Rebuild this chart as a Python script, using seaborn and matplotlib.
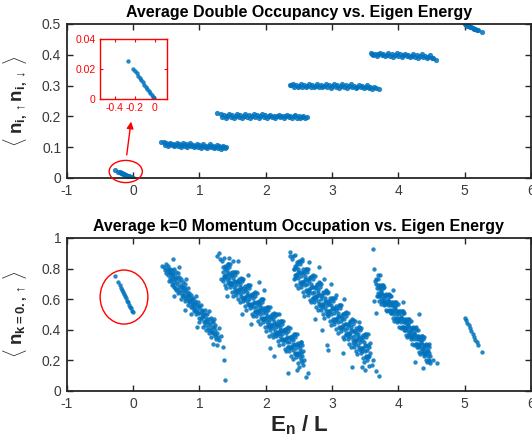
import matplotlib
matplotlib.use("Agg")
import matplotlib.pyplot as plt
from matplotlib.patches import Ellipse
import pandas as pd
import seaborn as sns

# ---------------- axis ticks ----------------
energy_ticks = [-1, 0, 1, 2, 3, 4, 5, 6]
dbl_ticks = [0, 0.1, 0.2, 0.3, 0.4, 0.5]
occ_ticks = [0, 0.2, 0.4, 0.6, 0.8, 1]
inset_xticks = [-0.4, -0.2, 0]
inset_yticks = [0, 0.02, 0.04]

# ---------------- double occupancy (E_n/L, <n_up n_dn>) per sector ----------------
dbl_n0 = [(-0.27, 0.025), (-0.22, 0.020), (-0.20, 0.0185), (-0.18, 0.017), (-0.165, 0.0155),
          (-0.15, 0.014), (-0.135, 0.0125), (-0.12, 0.011), (-0.105, 0.0095), (-0.09, 0.008),
          (-0.075, 0.0068), (-0.06, 0.0055), (-0.045, 0.004), (-0.03, 0.0027), (-0.015, 0.0013),
          (-0.005, 0.0004)]
dbl_n1 = [(0.42, 0.117), (0.46, 0.116), (0.48, 0.107), (0.50, 0.112), (0.52, 0.104), (0.54, 0.110),
          (0.56, 0.115), (0.58, 0.106), (0.60, 0.111), (0.62, 0.103), (0.64, 0.108), (0.66, 0.114),
          (0.68, 0.105), (0.70, 0.110), (0.72, 0.102), (0.74, 0.107), (0.76, 0.113), (0.78, 0.104),
          (0.80, 0.109), (0.82, 0.100), (0.84, 0.106), (0.86, 0.112), (0.88, 0.103), (0.90, 0.108),
          (0.92, 0.099), (0.94, 0.105), (0.96, 0.111), (0.98, 0.102), (1.00, 0.106), (1.02, 0.098),
          (1.04, 0.104), (1.06, 0.110), (1.08, 0.101), (1.10, 0.105), (1.12, 0.097), (1.14, 0.103),
          (1.16, 0.109), (1.18, 0.099), (1.20, 0.104), (1.22, 0.096), (1.24, 0.102), (1.26, 0.107),
          (1.28, 0.098), (1.30, 0.103), (1.32, 0.095), (1.34, 0.101), (1.36, 0.104), (1.38, 0.097),
          (1.40, 0.099)]
dbl_n2 = [(1.27, 0.211), (1.320, 0.208), (1.345, 0.199), (1.370, 0.204), (1.395, 0.196), (1.420, 0.202),
          (1.445, 0.208), (1.470, 0.199), (1.495, 0.204), (1.520, 0.196), (1.545, 0.202), (1.570, 0.208),
          (1.595, 0.199), (1.620, 0.204), (1.645, 0.196), (1.670, 0.202), (1.695, 0.207), (1.720, 0.198),
          (1.745, 0.203), (1.770, 0.195), (1.795, 0.201), (1.820, 0.207), (1.845, 0.198), (1.870, 0.203),
          (1.895, 0.195), (1.920, 0.201), (1.945, 0.207), (1.970, 0.198), (1.995, 0.203), (2.020, 0.195),
          (2.045, 0.201), (2.070, 0.206), (2.095, 0.197), (2.120, 0.202), (2.145, 0.194), (2.170, 0.200),
          (2.195, 0.206), (2.220, 0.197), (2.245, 0.202), (2.270, 0.194), (2.295, 0.200), (2.320, 0.206),
          (2.345, 0.197), (2.370, 0.202), (2.395, 0.194), (2.420, 0.200), (2.445, 0.205), (2.470, 0.196),
          (2.495, 0.201), (2.520, 0.194), (2.545, 0.199), (2.570, 0.202), (2.595, 0.196), (2.625, 0.197)]
dbl_n3 = [(2.360, 0.303), (2.380, 0.302), (2.405, 0.306), (2.430, 0.297), (2.455, 0.302), (2.480, 0.294),
          (2.505, 0.300), (2.530, 0.306), (2.555, 0.297), (2.580, 0.302), (2.605, 0.294), (2.630, 0.300),
          (2.655, 0.306), (2.680, 0.297), (2.705, 0.302), (2.730, 0.294), (2.755, 0.300), (2.780, 0.306),
          (2.805, 0.297), (2.830, 0.302), (2.855, 0.294), (2.880, 0.300), (2.905, 0.306), (2.930, 0.297),
          (2.955, 0.302), (2.980, 0.293), (3.005, 0.299), (3.030, 0.305), (3.055, 0.296), (3.080, 0.301),
          (3.105, 0.293), (3.130, 0.299), (3.155, 0.305), (3.180, 0.296), (3.205, 0.301), (3.230, 0.293),
          (3.255, 0.298), (3.280, 0.304), (3.305, 0.295), (3.330, 0.300), (3.355, 0.292), (3.380, 0.297),
          (3.405, 0.303), (3.430, 0.294), (3.455, 0.299), (3.480, 0.291), (3.505, 0.296), (3.530, 0.301),
          (3.555, 0.293), (3.580, 0.297), (3.605, 0.290), (3.630, 0.294), (3.660, 0.291), (3.710, 0.288)]
dbl_n4 = [(3.590, 0.405), (3.600, 0.404), (3.625, 0.399), (3.650, 0.404), (3.675, 0.396), (3.700, 0.401),
          (3.725, 0.407), (3.750, 0.398), (3.775, 0.403), (3.800, 0.395), (3.825, 0.400), (3.850, 0.406),
          (3.875, 0.397), (3.900, 0.402), (3.925, 0.394), (3.950, 0.399), (3.975, 0.405), (4.000, 0.396),
          (4.025, 0.401), (4.050, 0.393), (4.075, 0.398), (4.100, 0.404), (4.125, 0.395), (4.150, 0.400),
          (4.175, 0.392), (4.200, 0.397), (4.225, 0.403), (4.250, 0.394), (4.275, 0.399), (4.300, 0.391),
          (4.325, 0.396), (4.350, 0.401), (4.375, 0.392), (4.400, 0.397), (4.425, 0.389), (4.450, 0.394),
          (4.475, 0.398), (4.500, 0.390), (4.530, 0.389), (4.570, 0.383)]
dbl_n5 = [(5.00, 0.499), (5.02, 0.497), (5.04, 0.495), (5.06, 0.493), (5.08, 0.491), (5.10, 0.489),
          (5.12, 0.487), (5.14, 0.485), (5.16, 0.483), (5.18, 0.481), (5.20, 0.479), (5.26, 0.475)]

# ---------------- k=0 momentum occupation (E_n/L, <n_k=0,up>) per sector ----------------
occ_n0 = [(-0.27, 0.75), (-0.22, 0.71), (-0.20, 0.69), (-0.18, 0.675), (-0.165, 0.66), (-0.15, 0.645),
          (-0.135, 0.635), (-0.12, 0.62), (-0.105, 0.605), (-0.09, 0.59), (-0.075, 0.58), (-0.06, 0.565),
          (-0.045, 0.55), (-0.03, 0.54), (-0.015, 0.525), (-0.005, 0.515)]
occ_n1 = [(0.43, 0.82), (0.46, 0.81), (0.48, 0.79), (0.49, 0.83), (0.50, 0.77),
          (0.51, 0.80), (0.52, 0.76), (0.53, 0.82), (0.54, 0.78), (0.55, 0.74), (0.55, 0.80),
          (0.56, 0.77), (0.57, 0.72), (0.58, 0.79), (0.59, 0.75), (0.60, 0.86), (0.60, 0.70), (0.60, 0.77),
          (0.61, 0.73), (0.62, 0.80), (0.62, 0.68), (0.63, 0.75), (0.64, 0.71), (0.65, 0.78), (0.65, 0.66),
          (0.66, 0.74), (0.67, 0.70), (0.68, 0.64), (0.68, 0.77), (0.69, 0.72), (0.70, 0.68), (0.70, 0.81),
          (0.71, 0.65), (0.72, 0.73), (0.72, 0.60), (0.73, 0.69), (0.74, 0.66), (0.75, 0.71), (0.75, 0.62),
          (0.76, 0.68), (0.77, 0.64), (0.78, 0.70), (0.78, 0.59), (0.79, 0.66), (0.80, 0.62), (0.80, 0.73),
          (0.81, 0.65), (0.82, 0.60), (0.83, 0.67), (0.83, 0.56), (0.84, 0.62), (0.85, 0.64), (0.85, 0.58),
          (0.86, 0.60), (0.87, 0.55), (0.88, 0.63), (0.88, 0.50), (0.89, 0.58), (0.90, 0.61), (0.90, 0.54),
          (0.91, 0.57), (0.92, 0.52), (0.93, 0.59), (0.94, 0.55), (0.95, 0.50), (0.95, 0.62),
          (0.96, 0.56), (0.97, 0.52), (0.98, 0.58), (0.99, 0.48), (1.00, 0.54), (1.00, 0.45),
          (1.01, 0.51), (1.02, 0.56), (1.03, 0.47), (1.04, 0.52), (1.05, 0.49), (1.05, 0.42),
          (1.06, 0.50), (1.07, 0.45), (1.08, 0.53), (1.09, 0.43), (1.10, 0.48), (1.10, 0.40),
          (1.11, 0.46), (1.12, 0.50), (1.13, 0.42), (1.14, 0.47), (1.15, 0.38), (1.15, 0.52),
          (1.16, 0.44), (1.17, 0.40), (1.18, 0.48), (1.18, 0.35), (1.19, 0.42), (1.20, 0.45),
          (1.21, 0.38), (1.21, 0.31), (1.22, 0.42), (1.23, 0.36), (1.24, 0.40), (1.25, 0.34), (1.22, 0.47),
          (1.26, 0.38), (1.27, 0.30), (1.28, 0.35), (1.29, 0.41), (1.30, 0.33),
          (1.35, 0.29), (1.33, 0.36), (1.37, 0.20), (1.38, 0.07), (0.97, 0.42), (0.62, 0.62), (0.78, 0.53),
          (0.535, 0.72), (0.538, 0.79), (0.585, 0.69), (0.588, 0.765), (0.635, 0.73), (0.638, 0.67),
          (0.685, 0.66), (0.688, 0.745), (0.735, 0.68), (0.738, 0.63), (0.785, 0.61), (0.788, 0.675),
          (0.835, 0.63), (0.838, 0.585), (0.885, 0.56), (0.888, 0.60), (0.935, 0.575), (0.938, 0.53),
          (0.985, 0.51), (0.988, 0.555), (1.035, 0.53), (1.038, 0.485), (1.085, 0.46), (1.088, 0.50),
          (1.135, 0.445), (1.138, 0.40), (1.185, 0.385), (1.188, 0.455), (1.235, 0.43), (1.238, 0.375)]
occ_n2 = [(1.342, 0.85), (1.353, 0.78), (1.359, 0.72), (1.381, 0.80), (1.371, 0.74), (1.365, 0.87),
          (1.398, 0.81), (1.408, 0.67), (1.394, 0.75), (1.435, 0.71), (1.418, 0.77), (1.427, 0.83),
          (1.442, 0.81), (1.453, 0.74), (1.459, 0.68), (1.481, 0.76), (1.471, 0.70), (1.465, 0.83),
          (1.498, 0.76), (1.508, 0.62), (1.494, 0.70), (1.535, 0.66), (1.518, 0.72), (1.527, 0.78),
          (1.542, 0.76), (1.553, 0.69), (1.559, 0.63), (1.581, 0.71), (1.571, 0.65), (1.565, 0.78),
          (1.598, 0.72), (1.608, 0.58), (1.594, 0.66), (1.635, 0.62), (1.618, 0.68), (1.627, 0.74),
          (1.642, 0.72), (1.653, 0.65), (1.659, 0.59), (1.681, 0.66), (1.671, 0.60), (1.665, 0.73),
          (1.698, 0.67), (1.708, 0.53), (1.694, 0.61), (1.735, 0.57), (1.718, 0.63), (1.727, 0.69),
          (1.742, 0.67), (1.753, 0.60), (1.759, 0.54), (1.781, 0.62), (1.771, 0.56), (1.765, 0.69),
          (1.798, 0.63), (1.808, 0.49), (1.794, 0.57), (1.835, 0.52), (1.818, 0.58), (1.827, 0.64),
          (1.842, 0.62), (1.853, 0.55), (1.859, 0.49), (1.881, 0.57), (1.871, 0.51), (1.865, 0.64),
          (1.898, 0.58), (1.908, 0.44), (1.894, 0.52), (1.935, 0.48), (1.918, 0.54), (1.927, 0.60),
          (1.942, 0.58), (1.953, 0.51), (1.959, 0.45), (1.981, 0.53), (1.971, 0.47), (1.965, 0.60),
          (1.998, 0.53), (2.008, 0.39), (1.994, 0.47), (2.035, 0.43), (2.018, 0.49), (2.027, 0.55),
          (2.042, 0.53), (2.053, 0.46), (2.059, 0.40), (2.081, 0.48), (2.071, 0.42), (2.065, 0.55),
          (2.098, 0.49), (2.108, 0.35), (2.094, 0.43), (2.135, 0.39), (2.118, 0.45), (2.127, 0.51),
          (2.142, 0.49), (2.153, 0.42), (2.159, 0.36), (2.181, 0.43), (2.171, 0.37), (2.165, 0.50),
          (2.198, 0.44), (2.208, 0.30), (2.194, 0.38), (2.235, 0.34), (2.218, 0.40), (2.227, 0.46),
          (2.242, 0.44), (2.253, 0.37), (2.259, 0.31), (2.281, 0.39), (2.271, 0.33), (2.265, 0.46),
          (2.298, 0.40), (2.308, 0.26), (2.294, 0.34), (2.335, 0.29), (2.318, 0.35), (2.327, 0.41),
          (2.342, 0.39), (2.353, 0.32), (2.359, 0.26), (2.381, 0.34), (2.371, 0.28), (2.365, 0.41),
          (2.398, 0.35), (2.408, 0.21), (2.394, 0.29), (2.435, 0.25), (2.418, 0.31), (2.427, 0.37),
          (2.442, 0.35), (2.453, 0.28), (2.459, 0.22), (2.481, 0.30), (2.471, 0.24), (2.465, 0.37),
          (2.498, 0.30), (2.508, 0.16), (2.494, 0.24), (2.535, 0.20), (2.518, 0.26), (2.527, 0.32),
          (2.542, 0.30), (2.553, 0.23), (2.559, 0.17),
          (1.362, 0.81), (1.366, 0.75), (1.412, 0.79), (1.416, 0.73), (1.462, 0.77), (1.466, 0.71),
          (1.512, 0.74), (1.516, 0.68), (1.562, 0.72), (1.566, 0.66), (1.612, 0.70), (1.616, 0.64),
          (1.662, 0.67), (1.666, 0.61), (1.712, 0.65), (1.716, 0.59), (1.762, 0.63), (1.766, 0.57),
          (1.812, 0.61), (1.816, 0.55), (1.862, 0.58), (1.866, 0.52), (1.912, 0.56), (1.916, 0.50),
          (1.962, 0.54), (1.966, 0.48), (2.012, 0.51), (2.016, 0.45), (2.062, 0.49), (2.066, 0.43),
          (2.112, 0.47), (2.116, 0.41), (2.162, 0.44), (2.166, 0.38), (2.212, 0.42), (2.216, 0.36),
          (2.262, 0.40), (2.266, 0.34), (2.312, 0.38), (2.316, 0.32), (2.362, 0.35), (2.366, 0.29),
          (2.412, 0.33), (2.416, 0.27), (2.462, 0.31), (2.466, 0.25), (2.512, 0.28), (2.516, 0.22),
          (1.388, 0.69), (1.392, 0.82), (1.384, 0.75), (1.438, 0.83), (1.442, 0.70), (1.434, 0.76),
          (1.488, 0.645), (1.492, 0.775), (1.484, 0.705), (1.538, 0.78), (1.542, 0.65), (1.534, 0.71),
          (1.588, 0.60), (1.592, 0.73), (1.584, 0.66), (1.638, 0.735), (1.642, 0.605), (1.634, 0.665),
          (1.688, 0.555), (1.692, 0.685), (1.684, 0.615), (1.738, 0.69), (1.742, 0.56), (1.734, 0.62),
          (1.788, 0.505), (1.792, 0.635), (1.784, 0.565), (1.838, 0.645), (1.842, 0.515), (1.834, 0.575),
          (1.888, 0.46), (1.892, 0.59), (1.884, 0.52), (1.938, 0.60), (1.942, 0.47), (1.934, 0.53),
          (1.988, 0.415), (1.992, 0.545), (1.984, 0.475), (2.038, 0.55), (2.042, 0.42), (2.034, 0.48),
          (2.088, 0.37), (2.092, 0.50), (2.084, 0.43), (2.138, 0.505), (2.142, 0.375), (2.134, 0.435),
          (2.188, 0.325), (2.192, 0.455), (2.184, 0.385), (2.238, 0.46), (2.242, 0.33), (2.234, 0.39),
          (2.288, 0.275), (2.292, 0.405), (2.284, 0.335), (2.338, 0.415), (2.342, 0.285), (2.334, 0.345),
          (2.388, 0.23), (2.392, 0.36), (2.384, 0.29), (2.438, 0.37), (2.442, 0.24), (2.434, 0.30),
          (2.488, 0.185), (2.492, 0.315), (2.484, 0.245), (2.538, 0.32), (2.542, 0.19), (2.534, 0.25),
          (1.27, 0.88), (1.29, 0.90), (1.31, 0.86), (1.44, 0.87), (1.50, 0.85), (1.33, 0.73),
          (1.58, 0.85), (1.42, 0.62), (1.73, 0.76), (1.90, 0.71), (1.97, 0.66), (2.07, 0.28),
          (2.12, 0.23), (2.34, 0.12), (2.47, 0.14), (2.58, 0.20), (2.61, 0.09), (2.57, 0.26),
          (2.20, 0.50), (2.05, 0.36), (1.78, 0.44), (1.64, 0.50)]
occ_n3 = [(2.417, 0.88), (2.428, 0.80), (2.434, 0.73), (2.456, 0.81), (2.446, 0.74), (2.440, 0.89),
          (2.473, 0.83), (2.483, 0.67), (2.469, 0.76), (2.510, 0.71), (2.493, 0.78), (2.502, 0.85),
          (2.517, 0.83), (2.528, 0.75), (2.534, 0.68), (2.556, 0.77), (2.546, 0.70), (2.540, 0.85),
          (2.573, 0.78), (2.583, 0.62), (2.569, 0.71), (2.610, 0.66), (2.593, 0.73), (2.602, 0.80),
          (2.617, 0.78), (2.628, 0.70), (2.634, 0.63), (2.656, 0.72), (2.646, 0.65), (2.640, 0.80),
          (2.673, 0.74), (2.683, 0.58), (2.669, 0.67), (2.710, 0.61), (2.693, 0.68), (2.702, 0.75),
          (2.717, 0.73), (2.728, 0.65), (2.734, 0.58), (2.756, 0.67), (2.746, 0.60), (2.740, 0.75),
          (2.773, 0.69), (2.783, 0.53), (2.769, 0.62), (2.810, 0.57), (2.793, 0.64), (2.802, 0.71),
          (2.817, 0.68), (2.828, 0.60), (2.834, 0.53), (2.856, 0.62), (2.846, 0.55), (2.840, 0.70),
          (2.873, 0.64), (2.883, 0.48), (2.869, 0.57), (2.910, 0.52), (2.893, 0.59), (2.902, 0.66),
          (2.917, 0.64), (2.928, 0.56), (2.934, 0.49), (2.956, 0.57), (2.946, 0.50), (2.940, 0.65),
          (2.973, 0.59), (2.983, 0.43), (2.969, 0.52), (3.010, 0.47), (2.993, 0.54), (3.002, 0.61),
          (3.017, 0.59), (3.028, 0.51), (3.034, 0.44), (3.056, 0.53), (3.046, 0.46), (3.040, 0.61),
          (3.073, 0.54), (3.083, 0.38), (3.069, 0.47), (3.110, 0.42), (3.093, 0.49), (3.102, 0.56),
          (3.117, 0.54), (3.128, 0.46), (3.134, 0.39), (3.156, 0.48), (3.146, 0.41), (3.140, 0.56),
          (3.173, 0.50), (3.183, 0.34), (3.169, 0.43), (3.210, 0.37), (3.193, 0.44), (3.202, 0.51),
          (3.217, 0.49), (3.228, 0.41), (3.234, 0.34), (3.256, 0.43), (3.246, 0.36), (3.240, 0.51),
          (3.273, 0.45), (3.283, 0.29), (3.269, 0.38), (3.310, 0.33), (3.293, 0.40), (3.302, 0.47),
          (3.317, 0.44), (3.328, 0.36), (3.334, 0.29), (3.356, 0.38), (3.346, 0.31), (3.340, 0.46),
          (3.373, 0.40), (3.383, 0.24), (3.369, 0.33), (3.410, 0.28), (3.393, 0.35), (3.402, 0.42),
          (3.417, 0.40), (3.428, 0.32), (3.434, 0.25), (3.456, 0.33), (3.446, 0.26), (3.440, 0.41),
          (3.473, 0.35), (3.483, 0.19), (3.469, 0.28), (3.510, 0.23), (3.493, 0.30), (3.502, 0.37),
          (3.517, 0.35), (3.528, 0.27), (3.534, 0.20), (3.556, 0.29), (3.546, 0.22), (3.540, 0.37),
          (2.437, 0.82), (2.441, 0.76), (2.487, 0.80), (2.491, 0.74), (2.537, 0.78), (2.541, 0.71),
          (2.587, 0.75), (2.591, 0.69), (2.637, 0.73), (2.641, 0.66), (2.687, 0.70), (2.691, 0.64),
          (2.737, 0.68), (2.741, 0.62), (2.787, 0.66), (2.791, 0.59), (2.837, 0.63), (2.841, 0.57),
          (2.887, 0.61), (2.891, 0.54), (2.937, 0.59), (2.941, 0.52), (2.987, 0.56), (2.991, 0.50),
          (3.037, 0.54), (3.041, 0.47), (3.087, 0.51), (3.091, 0.45), (3.137, 0.49), (3.141, 0.42),
          (3.187, 0.47), (3.191, 0.40), (3.237, 0.44), (3.241, 0.38), (3.287, 0.42), (3.291, 0.35),
          (3.337, 0.39), (3.341, 0.33), (3.387, 0.37), (3.391, 0.30), (3.437, 0.35), (3.441, 0.28),
          (3.487, 0.32), (3.491, 0.26), (3.537, 0.30), (3.541, 0.23),
          (2.463, 0.69), (2.467, 0.84), (2.459, 0.76), (2.513, 0.85), (2.517, 0.70), (2.509, 0.77),
          (2.563, 0.645), (2.567, 0.795), (2.559, 0.71), (2.613, 0.80), (2.617, 0.65), (2.609, 0.725),
          (2.663, 0.595), (2.667, 0.745), (2.659, 0.66), (2.713, 0.755), (2.717, 0.605), (2.709, 0.68),
          (2.763, 0.55), (2.767, 0.70), (2.759, 0.615), (2.813, 0.705), (2.817, 0.555), (2.809, 0.63),
          (2.863, 0.50), (2.867, 0.65), (2.859, 0.565), (2.913, 0.655), (2.917, 0.505), (2.909, 0.58),
          (2.963, 0.455), (2.967, 0.605), (2.959, 0.52), (3.013, 0.61), (3.017, 0.46), (3.009, 0.535),
          (3.063, 0.405), (3.067, 0.555), (3.059, 0.47), (3.113, 0.56), (3.117, 0.41), (3.109, 0.485),
          (3.163, 0.355), (3.167, 0.505), (3.159, 0.42), (3.213, 0.515), (3.217, 0.365), (3.209, 0.44),
          (3.263, 0.31), (3.267, 0.46), (3.259, 0.375), (3.313, 0.465), (3.317, 0.315), (3.309, 0.39),
          (3.363, 0.26), (3.367, 0.41), (3.359, 0.325), (3.413, 0.415), (3.417, 0.265), (3.409, 0.34),
          (3.463, 0.215), (3.467, 0.365), (3.459, 0.28), (3.513, 0.37), (3.517, 0.22), (3.509, 0.295),
          (3.563, 0.165), (3.567, 0.315), (3.559, 0.23),
          (2.37, 0.91), (2.36, 0.88), (2.39, 0.86), (2.42, 0.80), (2.55, 0.86), (2.65, 0.84),
          (2.80, 0.81), (2.88, 0.73), (2.98, 0.70), (3.06, 0.63), (3.18, 0.60), (2.75, 0.47),
          (2.85, 0.40), (2.93, 0.30), (2.94, 0.27), (3.17, 0.25), (3.30, 0.16), (3.50, 0.14),
          (3.45, 0.16), (3.60, 0.17), (3.62, 0.20), (3.66, 0.13), (3.71, 0.10), (3.58, 0.25),
          (3.40, 0.45), (2.64, 0.12)]
occ_n4 = [(3.667, 0.73), (3.678, 0.67), (3.684, 0.62), (3.706, 0.67), (3.696, 0.62), (3.690, 0.73),
          (3.723, 0.68), (3.733, 0.57), (3.719, 0.63), (3.760, 0.59), (3.743, 0.65), (3.752, 0.69),
          (3.767, 0.67), (3.778, 0.61), (3.784, 0.56), (3.806, 0.62), (3.796, 0.57), (3.790, 0.68),
          (3.823, 0.63), (3.833, 0.52), (3.819, 0.58), (3.860, 0.53), (3.843, 0.59), (3.852, 0.63),
          (3.867, 0.62), (3.878, 0.56), (3.884, 0.51), (3.906, 0.56), (3.896, 0.51), (3.890, 0.62),
          (3.923, 0.57), (3.933, 0.46), (3.919, 0.52), (3.960, 0.48), (3.943, 0.54), (3.952, 0.58),
          (3.967, 0.56), (3.978, 0.50), (3.984, 0.45), (4.006, 0.51), (3.996, 0.46), (3.990, 0.57),
          (4.023, 0.52), (4.033, 0.41), (4.019, 0.47), (4.060, 0.42), (4.043, 0.48), (4.052, 0.52),
          (4.067, 0.51), (4.078, 0.45), (4.084, 0.40), (4.106, 0.45), (4.096, 0.40), (4.090, 0.51),
          (4.123, 0.46), (4.133, 0.35), (4.119, 0.41), (4.160, 0.37), (4.143, 0.43), (4.152, 0.47),
          (4.167, 0.45), (4.178, 0.39), (4.184, 0.34), (4.206, 0.40), (4.196, 0.35), (4.190, 0.46),
          (4.223, 0.41), (4.233, 0.30), (4.219, 0.36), (4.260, 0.31), (4.243, 0.37), (4.252, 0.41),
          (4.267, 0.40), (4.278, 0.34), (4.284, 0.29), (4.306, 0.34), (4.296, 0.29), (4.290, 0.40),
          (4.323, 0.35), (4.333, 0.24), (4.319, 0.30), (4.360, 0.26), (4.343, 0.32), (4.352, 0.36),
          (4.367, 0.34), (4.378, 0.28), (4.384, 0.23), (4.406, 0.29), (4.396, 0.24), (4.390, 0.35),
          (4.423, 0.30), (4.433, 0.19), (4.419, 0.25), (4.460, 0.20), (4.443, 0.26), (4.452, 0.30),
          (4.467, 0.29), (4.478, 0.23), (4.484, 0.18),
          (3.687, 0.69), (3.691, 0.64), (3.737, 0.66), (3.741, 0.61), (3.787, 0.63), (3.791, 0.59),
          (3.837, 0.60), (3.841, 0.56), (3.887, 0.58), (3.891, 0.53), (3.937, 0.55), (3.941, 0.50),
          (3.987, 0.52), (3.991, 0.48), (4.037, 0.49), (4.041, 0.45), (4.087, 0.47), (4.091, 0.42),
          (4.137, 0.44), (4.141, 0.39), (4.187, 0.41), (4.191, 0.37), (4.237, 0.38), (4.241, 0.34),
          (4.287, 0.36), (4.291, 0.31), (4.337, 0.33), (4.341, 0.28), (4.387, 0.30), (4.391, 0.26),
          (4.437, 0.27), (4.441, 0.23),
          (3.713, 0.585), (3.717, 0.69), (3.709, 0.63), (3.763, 0.69), (3.767, 0.58), (3.759, 0.635),
          (3.813, 0.53), (3.817, 0.635), (3.809, 0.575), (3.863, 0.635), (3.867, 0.525), (3.859, 0.58),
          (3.913, 0.475), (3.917, 0.58), (3.909, 0.52), (3.963, 0.58), (3.967, 0.47), (3.959, 0.525),
          (4.013, 0.42), (4.017, 0.525), (4.009, 0.465), (4.063, 0.525), (4.067, 0.415), (4.059, 0.47),
          (4.113, 0.365), (4.117, 0.47), (4.109, 0.41), (4.163, 0.47), (4.167, 0.36), (4.159, 0.415),
          (4.213, 0.31), (4.217, 0.415), (4.209, 0.355), (4.263, 0.415), (4.267, 0.305), (4.259, 0.36),
          (4.313, 0.255), (4.317, 0.36), (4.309, 0.30), (4.363, 0.36), (4.367, 0.25), (4.359, 0.305),
          (4.413, 0.20), (4.417, 0.305), (4.409, 0.245), (4.463, 0.305), (4.467, 0.195), (4.459, 0.25),
          (3.62, 0.93), (3.63, 0.80), (3.65, 0.72), (3.66, 0.70), (3.69, 0.76), (3.72, 0.76),
          (3.64, 0.59), (3.92, 0.66), (4.07, 0.58), (4.31, 0.50), (4.25, 0.19), (4.37, 0.15),
          (4.58, 0.18), (4.53, 0.20), (3.67, 0.51)]
occ_n5 = [(5.00, 0.48), (5.02, 0.465), (5.04, 0.445), (5.06, 0.43), (5.08, 0.41), (5.10, 0.39),
          (5.12, 0.37), (5.14, 0.355), (5.16, 0.335), (5.18, 0.32), (5.20, 0.30), (5.26, 0.255)]

BLUE = "#0072BD"
AXIS = "#262626"
RED = "#FF0000"


def frame(*groups):
    rows = [p for g in groups for p in g]
    return pd.DataFrame(rows, columns=["energy", "value"])


dbl = frame(dbl_n0, dbl_n1, dbl_n2, dbl_n3, dbl_n4, dbl_n5)
occ = frame(occ_n0, occ_n1, occ_n2, occ_n3, occ_n4, occ_n5)
dbl_low = frame(dbl_n0)

sns.set_theme(style="ticks")
plt.rcParams["font.family"] = ["Liberation Sans", "DejaVu Sans"]
plt.rcParams.update({
    "axes.unicode_minus": False,
    "mathtext.fontset": "custom",
    "mathtext.rm": "Liberation Sans",
    "mathtext.bf": "Liberation Sans:bold",
    "mathtext.it": "Liberation Sans:italic",
    "mathtext.sf": "Liberation Sans",
})

fig = plt.figure(figsize=(5.32, 4.40), dpi=100)
ax_top = fig.add_axes([0.1254, 0.5955, 0.8727, 0.35])
ax_bot = fig.add_axes([0.1254, 0.1114, 0.8727, 0.3477])

scatter_kw = dict(color=BLUE, linewidth=0, alpha=0.85, legend=False)
sns.scatterplot(data=dbl, x="energy", y="value", ax=ax_top, s=14, **scatter_kw)
sns.scatterplot(data=occ, x="energy", y="value", ax=ax_bot, s=10, **scatter_kw)


def style_axes(ax, yticks, ylim, ylabels):
    ax.set_xlim(-1, 6)
    ax.set_ylim(*ylim)
    ax.set_xticks(energy_ticks)
    ax.set_xticklabels([str(t) for t in energy_ticks])
    ax.set_yticks(yticks)
    ax.set_yticklabels(ylabels)
    ax.tick_params(direction="in", top=True, right=True, length=4, width=1.0,
                   color=AXIS, labelcolor="#3a3a3a", labelsize=10, pad=4)
    for sp in ax.spines.values():
        sp.set_visible(True)
        sp.set_color(AXIS)
        sp.set_linewidth(1.3)
    ax.set_xlabel("")
    ax.set_ylabel("")


style_axes(ax_top, dbl_ticks, (0, 0.5), ["0", "0.1", "0.2", "0.3", "0.4", "0.5"])
style_axes(ax_bot, occ_ticks, (0, 1), ["0", "0.2", "0.4", "0.6", "0.8", "1"])

ax_top.set_title("Average Double Occupancy vs. Eigen Energy", fontsize=11.5,
                 fontweight="bold", color="black", pad=5)
ax_bot.set_title("Average k=0 Momentum Occupation vs. Eigen Energy", fontsize=11.5,
                 fontweight="bold", color="black", pad=5)

ax_top.set_ylabel(r"$\langle\;\mathbf{n}_{\mathbf{i,}\uparrow}\mathbf{n}_{\mathbf{i,}\downarrow}\;\rangle$",
                  fontsize=13.5, color=AXIS)
ax_bot.set_ylabel(r"$\langle\;\mathbf{n}_{\mathbf{k=0.,}\uparrow}\;\rangle$",
                  fontsize=13.5, color=AXIS)
ax_top.yaxis.set_label_coords(-0.078, 0.5)
ax_bot.yaxis.set_label_coords(-0.078, 0.5)

ax_bot.set_xlabel(r"$\mathbf{E}_{\mathbf{n}}$ / L", fontsize=16, fontweight="bold", color=AXIS)
ax_bot.xaxis.set_label_coords(0.5, -0.145)

# highlight of the lowest sector in both panels
ax_top.add_patch(Ellipse((-0.11, 0.021), 0.5, 0.072, fill=False, edgecolor=RED,
                         linewidth=1.0, clip_on=False, zorder=5))
ax_bot.add_patch(Ellipse((-0.136, 0.614), 0.72, 0.353, fill=False, edgecolor=RED,
                         linewidth=1.0, clip_on=False, zorder=5))
ax_top.annotate("", xy=(-0.03, 0.183), xytext=(-0.095, 0.075),
                arrowprops=dict(arrowstyle="-|>", color=RED, lw=1.0, mutation_scale=10,
                                shrinkA=0, shrinkB=0))

# zoomed view of the lowest sector
ax_in = fig.add_axes([100 / 532, 1 - 99 / 440, 66.7 / 532, 60 / 440])
sns.scatterplot(data=dbl_low, x="energy", y="value", ax=ax_in, s=10, **scatter_kw)
ax_in.set_xlim(-0.55, 0.12)
ax_in.set_ylim(0, 0.04)
ax_in.set_xticks(inset_xticks)
ax_in.set_xticklabels(["-0.4", "-0.2", "0"])
ax_in.set_yticks(inset_yticks)
ax_in.set_yticklabels(["0", "0.02", "0.04"])
ax_in.tick_params(direction="in", top=True, right=True, length=2.5, width=0.8,
                  color=RED, labelcolor=RED, labelsize=7.5, pad=3)
for sp in ax_in.spines.values():
    sp.set_visible(True)
    sp.set_color(RED)
    sp.set_linewidth(1.0)
ax_in.set_xlabel("")
ax_in.set_ylabel("")

fig.savefig("out.png", dpi=100)
